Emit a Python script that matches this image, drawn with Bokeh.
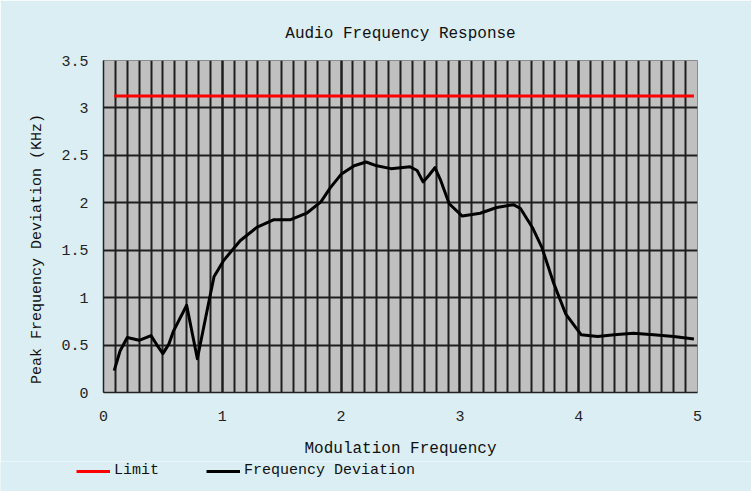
from bokeh.plotting import figure
from bokeh.models import Legend, LegendItem, SingleIntervalTicker, Range1d
from bokeh.layouts import column
from bokeh.embed import file_html
from bokeh.resources import INLINE

# ---- data ----
freq = [0.09, 0.14, 0.2, 0.3, 0.4, 0.45, 0.5, 0.55, 0.59, 0.70, 0.79, 0.86, 0.93,
        1.01, 1.15, 1.29, 1.43, 1.57, 1.71, 1.83, 1.91, 2.0, 2.11, 2.21, 2.30,
        2.42, 2.58, 2.64, 2.69, 2.74, 2.79, 2.84, 2.91, 3.02, 3.17, 3.31, 3.45,
        3.51, 3.61, 3.69, 3.79, 3.89, 4.02, 4.16, 4.30, 4.46, 4.63, 4.80, 4.97]
deviation = [0.23, 0.44, 0.58, 0.55, 0.60, 0.50, 0.41, 0.51, 0.65, 0.92, 0.355, 0.79, 1.22,
             1.39, 1.60, 1.74, 1.82, 1.82, 1.89, 2.01, 2.16, 2.30, 2.39, 2.43, 2.39,
             2.36, 2.38, 2.34, 2.22, 2.29, 2.37, 2.23, 1.99, 1.86, 1.89, 1.95, 1.98,
             1.94, 1.74, 1.53, 1.15, 0.83, 0.61, 0.59, 0.61, 0.625, 0.61, 0.59, 0.565]
limit_x = [0.09, 4.97]
limit_y = [3.125, 3.125]
series_names = ["Limit", "Frequency Deviation"]

FONT = "Liberation Mono"
BG = "#daeef3"
LIMIT_COLOR = "#ff0000"
DEV_COLOR = "#000000"

p = figure(width=751, height=461, output_backend="svg", toolbar_location=None,
           x_range=Range1d(0, 5), y_range=Range1d(0, 3.5),
           min_border_left=103, min_border_right=54, min_border_top=60, min_border_bottom=69,
           title="Audio Frequency Response")
p.frame_align = False

p.background_fill_color = "#c0c0c0"
p.border_fill_color = BG
p.outline_line_color = "#8c8c8c"
p.outline_line_width = 1

p.title.align = "center"
p.title.text_font = FONT
p.title.text_font_size = "16px"
p.title.text_font_style = "normal"
p.title.text_color = "#111111"
p.title.standoff = 35

p.xaxis.ticker = SingleIntervalTicker(interval=1, num_minor_ticks=10)
p.yaxis.ticker = SingleIntervalTicker(interval=0.5, num_minor_ticks=0)

for ax in (p.xaxis[0], p.yaxis[0]):
    ax.major_tick_out = 0
    ax.major_tick_in = 0
    ax.minor_tick_out = 0
    ax.minor_tick_in = 0
    ax.axis_line_color = "#222222"
    ax.axis_line_width = 1.5
    ax.major_label_text_font = FONT
    ax.major_label_text_font_size = "15px"
    ax.major_label_text_color = "#222222"
    ax.axis_label_text_font = FONT
    ax.axis_label_text_font_size = "15px"
    ax.axis_label_text_font_style = "normal"
    ax.axis_label_text_color = "#111111"

p.xaxis.axis_label = "Modulation Frequency"
p.xaxis.axis_label_text_font_size = "16px"
p.xaxis.major_label_standoff = 18
p.xaxis.axis_label_standoff = 16
p.yaxis.axis_label = "Peak Frequency Deviation (KHz)" + "\u00a0" * 5
p.yaxis.major_label_standoff = 15
p.yaxis.axis_label_standoff = 12

p.xgrid.grid_line_color = "#1e1e1e"
p.xgrid.grid_line_width = 2
p.xgrid.minor_grid_line_color = "#1e1e1e"
p.xgrid.minor_grid_line_width = 2
p.ygrid.grid_line_color = "#1e1e1e"
p.ygrid.grid_line_width = 2

p.line(limit_x, limit_y, line_color=LIMIT_COLOR, line_width=3)
p.line(freq, deviation, line_color=DEV_COLOR, line_width=3, line_join="round")

# legend strip below the chart (its series lie outside its range, only the legend shows)
lg = figure(width=751, height=30, output_backend="svg", toolbar_location=None,
            x_range=Range1d(0, 5), y_range=Range1d(10, 11),
            x_axis_type=None, y_axis_type=None,
            min_border=0, min_border_left=0, min_border_right=0,
            min_border_top=0, min_border_bottom=0)
lg.frame_align = False
lg.background_fill_color = BG
lg.border_fill_color = BG
lg.outline_line_color = None
lg.xgrid.visible = False
lg.ygrid.visible = False
r1 = lg.line(limit_x, limit_y, line_color=LIMIT_COLOR, line_width=3)
r2 = lg.line(freq, deviation, line_color=DEV_COLOR, line_width=3)
legend = Legend(items=[LegendItem(label=series_names[0], renderers=[r1]),
                       LegendItem(label=series_names[1], renderers=[r2])],
                location=(76, 12), orientation="horizontal",
                glyph_width=34, glyph_height=14, label_standoff=4, spacing=47,
                padding=0, margin=0, label_height=14,
                background_fill_alpha=0, border_line_alpha=0,
                label_text_font=FONT, label_text_font_size="15px", label_text_color="#111111")
lg.add_layout(legend, "center")

layout = column(p, lg, spacing=0)
open("out.html", "w").write(file_html(layout, INLINE))
